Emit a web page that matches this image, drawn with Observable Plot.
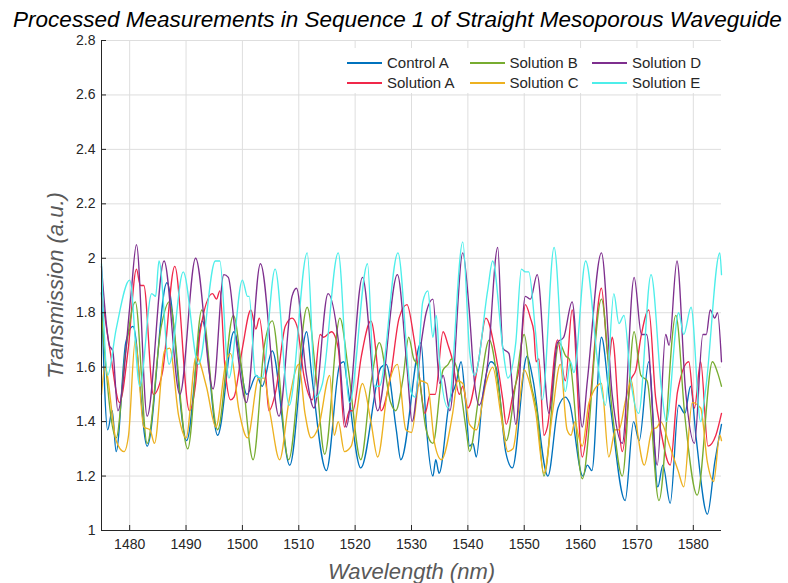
<!DOCTYPE html>
<html>
<head>
<meta charset="utf-8">
<script src="https://cdn.jsdelivr.net/npm/d3@7"></script>
<script src="https://cdn.jsdelivr.net/npm/@observablehq/plot@0.6"></script>
<style>
  html, body { margin: 0; padding: 0; background: #fff; }
  body { font-family: "Liberation Sans", Arial, Helvetica, sans-serif; }
  #wrap { position: relative; width: 788px; height: 583px; overflow: hidden; }
  #title { position: absolute; left: 0; top: 7px; width: 795px; text-align: center;
           font-style: italic; font-size: 22.5px; line-height: 26px; color: #000; white-space: nowrap; }
  #chart { position: absolute; left: 0; top: 26px; }
  #legend { position: absolute; left: 340px; top: 48px; width: 380px; height: 45px; background: #fff; }
  .li { position: absolute; height: 20px; font-size: 15px; line-height: 20px; color: #262626; white-space: nowrap; }
  .li span.sw { display: inline-block; width: 35px; height: 1.6px; vertical-align: middle; margin-right: 5px; position: relative; top: -1px; }
</style>
</head>
<body>
<div id="wrap">
  <div id="title">Processed Measurements in Sequence 1 of Straight Mesoporous Waveguide</div>
  <div id="chart"></div>
  <div id="legend"></div>
</div>
<script>
// ---- data (wavelength nm, transmission a.u.) ----
const names = ["Control A", "Solution A", "Solution B", "Solution C", "Solution D", "Solution E"];
const colors = ["#0072BD", "#F0284A", "#77AC30", "#EDB120", "#7E2F8E", "#4DEEEA"];
const xTicks = [1480, 1490, 1500, 1510, 1520, 1530, 1540, 1550, 1560, 1570, 1580];
const yTicks = [1, 1.2, 1.4, 1.6, 1.8, 2, 2.2, 2.4, 2.6, 2.8];

const controlA = [[1475,1.875],[1476.1,1.37],[1476.9,1.44],[1477.6,1.29],[1479.3,1.69],[1480.6,1.75],[1483.1,1.31],[1486.6,1.91],[1490.1,1.33],[1492.9,1.77],[1495.6,1.35],[1498.5,1.73],[1500.8,1.50],[1502.5,1.57],[1503.5,1.53],[1505.3,1.66],[1508.4,1.24],[1511.4,1.73],[1512.3,1.57],[1514.9,1.22],[1517.3,1.61],[1518.0,1.62],[1518.6,1.54],[1521.0,1.23],[1524.6,1.60],[1525.5,1.61],[1527.3,1.37],[1528.1,1.26],[1531.7,1.69],[1532.6,1.39],[1533.8,1.20],[1534.3,1.26],[1534.9,1.21],[1536.7,1.47],[1537.9,1.54],[1538.8,1.62],[1539.6,1.47],[1540.3,1.31],[1540.9,1.32],[1541.5,1.27],[1542.6,1.49],[1544.1,1.62],[1545.0,1.60],[1546.7,1.29],[1547.9,1.23],[1550.5,1.64],[1551.5,1.56],[1554.2,1.20],[1556.0,1.45],[1557.3,1.49],[1558.0,1.47],[1560.4,1.20],[1561.2,1.24],[1562.0,1.22],[1563.7,1.71],[1565.2,1.47],[1567.9,1.11],[1569.4,1.40],[1570.4,1.33],[1572.1,1.62],[1573.7,1.16],[1574.6,1.24],[1575.9,1.10],[1577.4,1.46],[1578.5,1.43],[1579.5,1.53],[1580.5,1.34],[1582.5,1.06],[1583.8,1.25],[1585,1.39]];

const solutionA = [[1475,1.87],[1476.6,1.65],[1478.2,1.47],[1479.7,1.66],[1481.2,1.96],[1481.9,1.90],[1482.5,1.90],[1484.2,1.50],[1485.8,1.58],[1488,1.97],[1490.6,1.44],[1491.7,1.54],[1492.5,1.73],[1494.7,1.87],[1495.4,1.85],[1496,1.88],[1496.9,1.60],[1497.9,1.48],[1498.5,1.49],[1500,1.67],[1501.5,1.81],[1502.4,1.74],[1503,1.78],[1504.1,1.58],[1504.7,1.44],[1505.9,1.51],[1507.6,1.75],[1508.8,1.78],[1509.7,1.75],[1510.9,1.57],[1512.4,1.48],[1513.8,1.72],[1514.4,1.71],[1515.8,1.73],[1517,1.67],[1518.1,1.38],[1519,1.44],[1519.6,1.44],[1521.1,1.64],[1522.8,1.77],[1524,1.59],[1524.6,1.44],[1526.3,1.57],[1527.8,1.78],[1529.2,1.83],[1530.4,1.71],[1531.3,1.58],[1532.4,1.43],[1533.3,1.50],[1534.2,1.50],[1535.6,1.73],[1536.5,1.68],[1537.1,1.64],[1538.5,1.50],[1539.1,1.53],[1540,1.45],[1541.8,1.61],[1543.2,1.78],[1545,1.64],[1546.2,1.48],[1546.8,1.39],[1548,1.50],[1549.2,1.61],[1550.2,1.83],[1551.1,1.78],[1551.7,1.73],[1552.1,1.62],[1552.6,1.63],[1553.5,1.35],[1554.1,1.38],[1555.9,1.70],[1557.3,1.55],[1558.5,1.81],[1560.3,1.27],[1561.5,1.44],[1563.7,1.89],[1565.0,1.62],[1565.6,1.71],[1567.4,1.29],[1568.9,1.55],[1569.8,1.59],[1570.7,1.71],[1572.1,1.81],[1573.3,1.49],[1574.2,1.37],[1575.9,1.24],[1577.2,1.51],[1579.2,1.62],[1580.2,1.45],[1581.3,1.62],[1582.6,1.31],[1584,1.35],[1585,1.43]];

const solutionB = [[1475,1.80],[1477.6,1.34],[1479.3,1.66],[1481,1.84],[1483.1,1.32],[1485.6,1.75],[1487,1.84],[1490.3,1.30],[1492.8,1.81],[1495.6,1.37],[1498.4,1.79],[1499.9,1.59],[1501.9,1.26],[1503.9,1.68],[1505.3,1.77],[1508.2,1.26],[1511.5,1.82],[1513.1,1.56],[1514.6,1.28],[1517.3,1.78],[1518.8,1.59],[1521,1.26],[1522.8,1.54],[1524.3,1.69],[1526.3,1.47],[1527.2,1.44],[1528.5,1.56],[1529.5,1.71],[1530.4,1.63],[1531,1.61],[1532.6,1.37],[1533.8,1.32],[1535.6,1.59],[1536.5,1.61],[1537.1,1.63],[1538,1.60],[1539.7,1.37],[1540.3,1.29],[1542,1.50],[1543.8,1.70],[1545.6,1.50],[1546.8,1.33],[1548.5,1.54],[1550,1.72],[1551.1,1.55],[1552.3,1.43],[1553.5,1.20],[1556.2,1.69],[1557.4,1.64],[1558,1.63],[1560.3,1.19],[1563.7,1.85],[1565.6,1.44],[1567.4,1.20],[1569.5,1.73],[1570.7,1.57],[1571.8,1.55],[1573.9,1.11],[1576.9,1.79],[1578.5,1.42],[1580.7,1.13],[1583.4,1.62],[1584.3,1.58],[1585,1.53]];

const solutionC = [[1475,1.50],[1475.6,1.60],[1477.6,1.33],[1479,1.29],[1479.8,1.35],[1481,1.70],[1482.5,1.38],[1483.6,1.37],[1484.4,1.32],[1486.2,1.66],[1487.1,1.67],[1488.7,1.42],[1490,1.34],[1491.8,1.64],[1493.6,1.53],[1495.3,1.38],[1497.1,1.62],[1497.9,1.65],[1499.4,1.44],[1500.9,1.34],[1502.9,1.56],[1503.8,1.56],[1505,1.42],[1506.6,1.26],[1508.3,1.48],[1510,1.61],[1511.1,1.43],[1512.2,1.34],[1513.5,1.38],[1515.5,1.57],[1516.3,1.35],[1517,1.40],[1518.1,1.29],[1519.3,1.31],[1521.3,1.54],[1522.8,1.40],[1524,1.27],[1525.8,1.52],[1527.5,1.61],[1529,1.37],[1530,1.36],[1531.5,1.55],[1532.8,1.54],[1534.1,1.32],[1535.3,1.26],[1537.3,1.43],[1538.2,1.55],[1539.1,1.54],[1540.3,1.39],[1541.5,1.37],[1543.2,1.54],[1544.4,1.60],[1545.9,1.42],[1547.1,1.29],[1548,1.30],[1549.1,1.46],[1550,1.59],[1551.1,1.53],[1552,1.44],[1553.5,1.21],[1555,1.43],[1556.4,1.61],[1557.6,1.37],[1558.3,1.35],[1559,1.40],[1559.6,1.35],[1560.3,1.31],[1561.5,1.47],[1563.7,1.54],[1565,1.27],[1566.2,1.37],[1566.8,1.37],[1568,1.48],[1569,1.55],[1570.1,1.36],[1571.3,1.24],[1572.7,1.37],[1573.6,1.38],[1574.2,1.40],[1575.8,1.31],[1577.3,1.22],[1578.3,1.16],[1579.8,1.47],[1581.3,1.45],[1582.5,1.25],[1583.6,1.18],[1584.7,1.35],[1585,1.33]];

const solutionD = [[1475,1.97],[1476.4,1.68],[1477,1.66],[1477.9,1.44],[1480.2,1.86],[1481.2,2.05],[1483.1,1.42],[1486.1,1.99],[1488.9,1.50],[1491.7,2.00],[1494.8,1.52],[1496.7,1.94],[1497.5,1.93],[1498.7,1.73],[1500.7,1.47],[1503.2,1.98],[1506.5,1.42],[1508.8,1.86],[1509.6,1.89],[1511.3,1.58],[1512.7,1.45],[1515.2,1.87],[1517,1.70],[1518.4,1.38],[1521.3,1.93],[1524,1.44],[1527.5,1.94],[1529.2,1.60],[1530.1,1.40],[1531.8,1.70],[1532.6,1.80],[1533.8,1.85],[1535,1.54],[1535.6,1.57],[1536.8,1.44],[1539.1,2.02],[1540.2,1.82],[1541.2,1.54],[1542,1.46],[1543.5,1.61],[1545.3,2.04],[1546.2,1.67],[1547.3,1.65],[1548.5,1.39],[1550.2,1.86],[1551.1,1.85],[1552.3,1.94],[1554.4,1.43],[1555.9,1.69],[1557,1.71],[1558.5,1.84],[1560.3,1.38],[1561.2,1.55],[1563.7,2.02],[1565.6,1.50],[1567.4,1.32],[1569.5,1.93],[1570.8,1.72],[1571.7,1.72],[1573.6,1.24],[1575.1,1.72],[1575.7,1.68],[1577.1,1.99],[1578.6,1.52],[1580.2,1.32],[1581.7,1.72],[1582.3,1.72],[1583,1.81],[1583.8,1.78],[1584.3,1.80],[1585,1.62]];

const solutionE = [[1475,1.98],[1476.1,1.57],[1477.6,1.74],[1480,1.92],[1481.8,1.53],[1483.9,1.87],[1484.6,1.86],[1485.2,1.99],[1487,1.61],[1489.5,1.95],[1492.2,1.61],[1495.2,1.99],[1496,1.99],[1497.6,1.56],[1500,1.92],[1500.9,1.86],[1501.2,1.86],[1502.3,1.57],[1503.5,1.56],[1505.8,1.96],[1508.3,1.46],[1511.5,2.02],[1513,1.49],[1514.2,1.54],[1517,2.02],[1519,1.47],[1522.2,1.98],[1523.4,1.53],[1524.3,1.53],[1527.6,2.02],[1529.9,1.51],[1530.7,1.49],[1532,1.84],[1532.9,1.88],[1533.8,1.71],[1534.4,1.79],[1535,1.61],[1536.5,1.45],[1539.1,2.06],[1540.3,1.66],[1541.2,1.57],[1543.5,1.88],[1544.4,1.99],[1546.2,1.67],[1547.1,1.56],[1548.5,1.69],[1549.5,1.96],[1550.2,1.95],[1550.8,1.95],[1552,1.73],[1553.2,1.48],[1555.3,2.04],[1557.3,1.51],[1558.2,1.62],[1558.8,1.58],[1560.9,1.99],[1563.2,1.59],[1564.4,1.46],[1565.9,1.87],[1566.8,1.76],[1567.7,1.79],[1568.9,1.55],[1570.3,1.43],[1572.5,1.94],[1574.4,1.51],[1575.2,1.40],[1577.4,1.80],[1578.3,1.72],[1579.6,1.82],[1581.3,1.40],[1582.2,1.52],[1584.7,2.02],[1585,1.94]];

const seriesData = [controlA, solutionA, solutionB, solutionC, solutionD, solutionE];

// ---- build table ----
const rows = [];
seriesData.forEach((s, i) => s.forEach(([nm, v]) => rows.push({nm, v, name: names[i]})));

const axisColor = "#262626";
const chart = Plot.plot({
  width: 788,
  height: 557,
  marginLeft: 101,
  marginRight: 67,
  marginTop: 14,
  marginBottom: 53,
  style: {fontFamily: '"Liberation Sans", Arial, sans-serif', fontSize: "14px", color: axisColor, background: "transparent"},
  x: {domain: [1475, 1585]},
  y: {domain: [1, 2.8]},
  color: {domain: names, range: colors},
  marks: [
    Plot.gridX(xTicks, {stroke: "#dedede", strokeOpacity: 1, strokeWidth: 1}),
    Plot.gridY(yTicks, {stroke: "#dedede", strokeOpacity: 1, strokeWidth: 1}),
    Plot.line(rows, {x: "nm", y: "v", z: "name", stroke: "name", strokeWidth: 1.35, curve: "monotone-x"}),
    Plot.tickX(xTicks, {x: d => d, insetTop: 485, stroke: axisColor}),
    Plot.tickY(yTicks, {y: d => d, insetRight: 615, stroke: axisColor}),
    Plot.ruleX([1475], {stroke: axisColor}),
    Plot.ruleY([1], {stroke: axisColor}),
    Plot.axisX(xTicks, {tickSize: 0, tickPadding: 9, tickFormat: d => String(d), label: null, fill: axisColor}),
    Plot.axisY(yTicks, {tickSize: 0, tickPadding: 6, tickFormat: d => String(d), label: null, fill: axisColor}),
    Plot.text(["Wavelength (nm)"], {frameAnchor: "bottom", dy: 41, text: d => d, fontSize: 22, fontStyle: "italic", fill: "#595959", textAnchor: "middle", lineAnchor: "middle"}),
    Plot.text(["Transmission (a.u.)"], {frameAnchor: "left", dx: -46, rotate: -90, text: d => d, fontSize: 22, fontStyle: "italic", fill: "#595959", textAnchor: "middle", lineAnchor: "middle"})
  ]
});
document.getElementById("chart").appendChild(chart);

// ---- legend (3 columns, filled column-wise) ----
const legend = document.getElementById("legend");
names.forEach((n, i) => {
  const col = Math.floor(i / 2), row = i % 2;
  const d = document.createElement("div");
  d.className = "li";
  d.style.left = (7 + col * 122.5) + "px";
  d.style.top = (5 + row * 20) + "px";
  const sw = document.createElement("span");
  sw.className = "sw";
  sw.style.background = colors[i];
  d.appendChild(sw);
  d.appendChild(document.createTextNode(n));
  legend.appendChild(d);
});
</script>
</body>
</html>
